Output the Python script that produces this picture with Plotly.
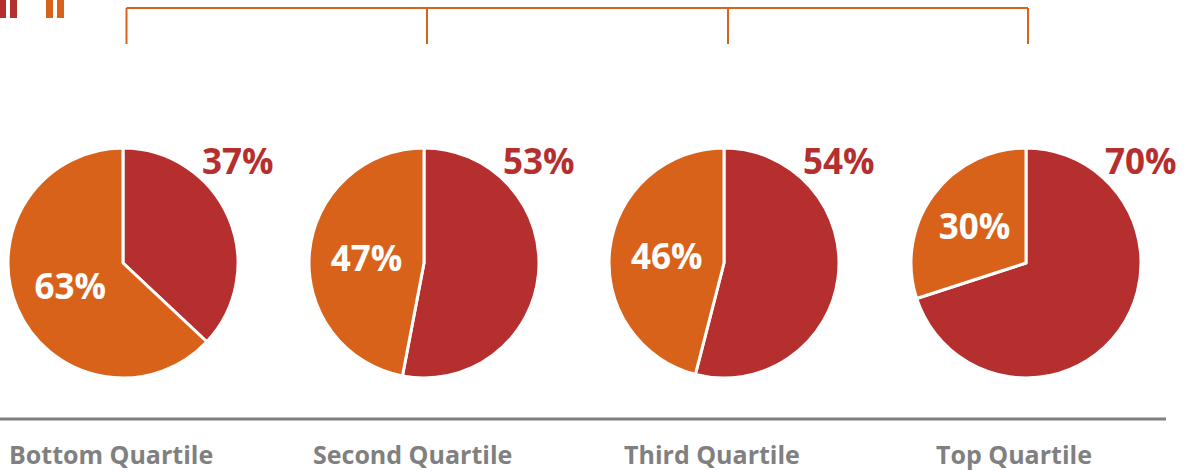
import plotly.graph_objects as go

W, H = 1186, 471

categories = ["Bottom Quartile", "Second Quartile", "Third Quartile", "Top Quartile"]
red_values = [37, 53, 54, 70]
orange_values = [63, 47, 46, 30]

RED = "#B52F2E"
ORANGE = "#D9621B"
GRAY = "#808080"
FONT = "Open Sans"

centers_x = [123, 424, 724, 1026]
center_y = 263
radius = 115

def px(x):
    return x / W

def py(y):
    return 1 - y / H

fig = go.Figure()
annotations = []
for i, cat in enumerate(categories):
    cx = centers_x[i]
    fig.add_trace(go.Pie(
        values=[red_values[i], orange_values[i]],
        labels=["Red", "Orange"],
        sort=False,
        direction="clockwise",
        rotation=0,
        marker=dict(colors=[RED, ORANGE], line=dict(color="white", width=3)),
        texttemplate=["", "%{value}%"],
        textposition=["none", "inside"],
        insidetextorientation="horizontal",
        textfont=dict(family=FONT, size=35, color="white", weight="bold"),
        domain=dict(x=[px(cx - radius), px(cx + radius)],
                    y=[py(center_y + radius), py(center_y - radius)]),
        hoverinfo="label+value",
        showlegend=False,
    ))
    annotations.append(dict(
        x=px(cx + radius), y=py(center_y - 102), xref="paper", yref="paper",
        text=f"<b>{red_values[i]}%</b>", showarrow=False,
        xanchor="center", yanchor="middle",
        font=dict(family=FONT, size=35, color=RED),
    ))
    annotations.append(dict(
        x=px(cx - 12), y=py(454), xref="paper", yref="paper",
        text=f"<b>{cat}</b>", showarrow=False,
        xanchor="center", yanchor="middle",
        font=dict(family=FONT, size=25, color=GRAY),
    ))

shapes = []
# top bracket
bracket_x = [126.5, 427, 728, 1028]
shapes.append(dict(type="line", xref="paper", yref="paper",
                   x0=px(bracket_x[0]), x1=px(bracket_x[-1]), y0=py(8), y1=py(8),
                   line=dict(color=ORANGE, width=2)))
for bx in bracket_x:
    shapes.append(dict(type="line", xref="paper", yref="paper",
                       x0=px(bx), x1=px(bx), y0=py(8), y1=py(44),
                       line=dict(color=ORANGE, width=2)))
# baseline
shapes.append(dict(type="line", xref="paper", yref="paper",
                   x0=0, x1=px(1166), y0=py(419), y1=py(419),
                   line=dict(color=GRAY, width=3)))
# partial legend icons at top-left
for (x0, x1, c) in [(0, 6, RED), (10, 17, RED), (46, 53, ORANGE), (57, 64, ORANGE)]:
    shapes.append(dict(type="rect", xref="paper", yref="paper",
                       x0=px(x0), x1=px(x1), y0=py(18), y1=py(0),
                       fillcolor=c, line=dict(width=0)))

fig.update_layout(
    width=W, height=H,
    margin=dict(l=0, r=0, t=0, b=0),
    paper_bgcolor="white", plot_bgcolor="white",
    shapes=shapes, annotations=annotations,
    showlegend=False,
)

fig.write_html("out.html",
               config={"displayModeBar": False},
               post_script="document.body.style.margin='0';document.body.style.overflow='hidden';")
